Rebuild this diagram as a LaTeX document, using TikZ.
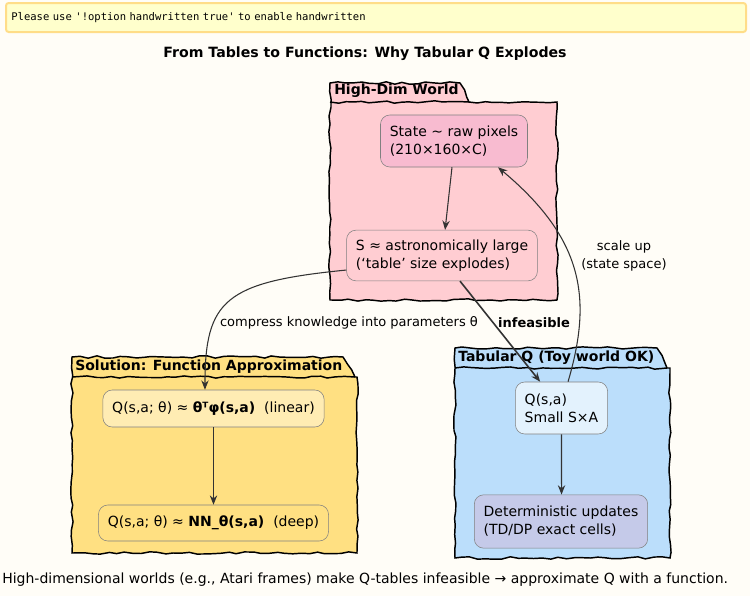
\documentclass[tikz,border=0pt]{standalone}
\usepackage{fontspec}
\setmainfont{DejaVu Sans}
\setmonofont{DejaVu Sans Mono}
\usetikzlibrary{arrows.meta, decorations.pathmorphing, positioning}
\definecolor{bgcream}{HTML}{FFFDF7}
\definecolor{warnfill}{HTML}{FFFFCC}
\definecolor{warnline}{HTML}{FFDD88}
\definecolor{pinkpkg}{HTML}{FFCDD2}
\definecolor{pinknode}{HTML}{F8BBD0}
\definecolor{amberpkg}{HTML}{FFE082}
\definecolor{ambernode}{HTML}{FFECB3}
\definecolor{bluepkg}{HTML}{BBDEFB}
\definecolor{bluenode}{HTML}{E3F2FD}
\definecolor{indigonode}{HTML}{C5CAE9}
\definecolor{inkgray}{HTML}{333333}

\begin{document}
\pgfmathsetseed{7}
\begin{tikzpicture}[
            x=0.75pt, y=-0.75pt,
            every node/.style={font=\fontsize{10.5}{13.5}\selectfont, text=black},
            pkg/.style={draw=black, line width=1.1pt, decorate,
              decoration={random steps, segment length=6pt, amplitude=0.9pt}},
            pkglabel/.style={anchor=west, inner sep=0pt, font=\bfseries\fontsize{10.5}{12}\selectfont},
            box/.style={draw=black!50, line width=0.4pt, rounded corners=7pt, align=left, inner xsep=7pt},
            flow/.style={draw=inkgray, line width=0.8pt, -{Stealth[length=7pt, width=5.5pt]}},
            lbl/.style={inner sep=1pt, font=\fontsize{9.75}{13}\selectfont}
          ]
            \fill[bgcream] (0,0) rectangle (750,596);
            \useasboundingbox (0,0) rectangle (750,596);

            \node[draw=warnline, fill=warnfill, line width=1.5pt, rounded corners=2pt, anchor=west,
              text width=547pt, inner xsep=4pt, minimum height=21.75pt,
              font=\ttfamily\fontsize{7.9}{9}\selectfont] (warn) at (5,17.5)
              {Please use \symbol{"27}!option handwritten true\symbol{"27} to enable handwritten};
            \node[font=\bfseries\fontsize{10.6}{12}\selectfont] (title) at (365,54)
              {From Tables to Functions: Why Tabular Q Explodes};

            \path[pkg, fill=pinkpkg] (330,300) -- (330,83) -- (460,83) -- (469,102) -- (557,102) -- (557,300) -- cycle;
            \draw[pkg] (330,102) -- (469,102);
            \node[pkglabel] (hidim) at (334,91) {High-Dim World};

            \path[pkg, fill=amberpkg] (72,553) -- (72,357) -- (343,357) -- (355,377) -- (357,377) -- (357,553) -- cycle;
            \draw[pkg] (72,377) -- (355,377);
            \node[pkglabel] (solution) at (75,367) {Solution: Function Approximation};

            \path[pkg, fill=bluepkg] (455,558) -- (455,348) -- (657,348) -- (667,368) -- (670,368) -- (670,558) -- cycle;
            \draw[pkg] (455,368) -- (667,368);
            \node[pkglabel] (tabular) at (458,358) {Tabular Q (Toy world OK)};

            \node[box, fill=pinknode, minimum height=39pt] (state) at (454,141)
              {State \textasciitilde{} raw pixels\\(210×160×C)};
            \node[box, fill=pinkpkg, minimum height=38pt] (sbig) at (442,255.5)
              {S ≈ astronomically large\\(‘table’ size explodes)};
            \node[box, fill=ambernode, minimum height=27.75pt] (lin) at (213.5,408.5)
              {Q(s,a; θ) ≈ \textbf{θᵀφ(s,a)}\ \ (linear)};
            \node[box, fill=amberpkg, minimum height=27pt] (deep) at (213.5,523)
              {Q(s,a; θ) ≈ \textbf{NN\_θ(s,a)}\ \ (deep)};
            \node[box, fill=bluenode, minimum height=39pt] (qsa) at (561.5,408)
              {Q(s,a)\\Small S×A};
            \node[box, fill=indigonode, minimum height=40pt] (det) at (561,521.5)
              {Deterministic updates\\(TD/DP exact cells)};

            \draw[flow] ([xshift=-1.5pt]state.south) -- ([xshift=2.3pt]sbig.north);
            \draw[flow] ([yshift=-10.9pt]sbig.west) .. controls (225,282) and (205,300) .. ([xshift=-6.4pt]lin.north);
            \draw[flow, line width=1.2pt] ([xshift=13.5pt]sbig.south) -- ([xshift=-16pt]qsa.north);
            \draw[flow] ([xshift=4.9pt]qsa.north) .. controls (592,300) and (585,240) .. ([xshift=33pt]state.south);
            \draw[flow] (lin.south) -- (deep.north);
            \draw[flow] (qsa.south) -- ([xshift=0.4pt]det.north);

            \node[lbl] (compress) at (349,323) {compress knowledge into parameters θ};
            \node[lbl, font=\bfseries\fontsize{9.75}{12}\selectfont] (infeasible) at (534,323) {infeasible};
            \node[lbl, align=center] (scaleup) at (624,256) {scale up\\(state space)};

            \node[anchor=west, inner sep=0pt] (footer) at (2,580)
              {High-dimensional worlds (e.g., Atari frames) make Q-tables infeasible → approximate Q with a function.};
          \end{tikzpicture}
\end{document}
